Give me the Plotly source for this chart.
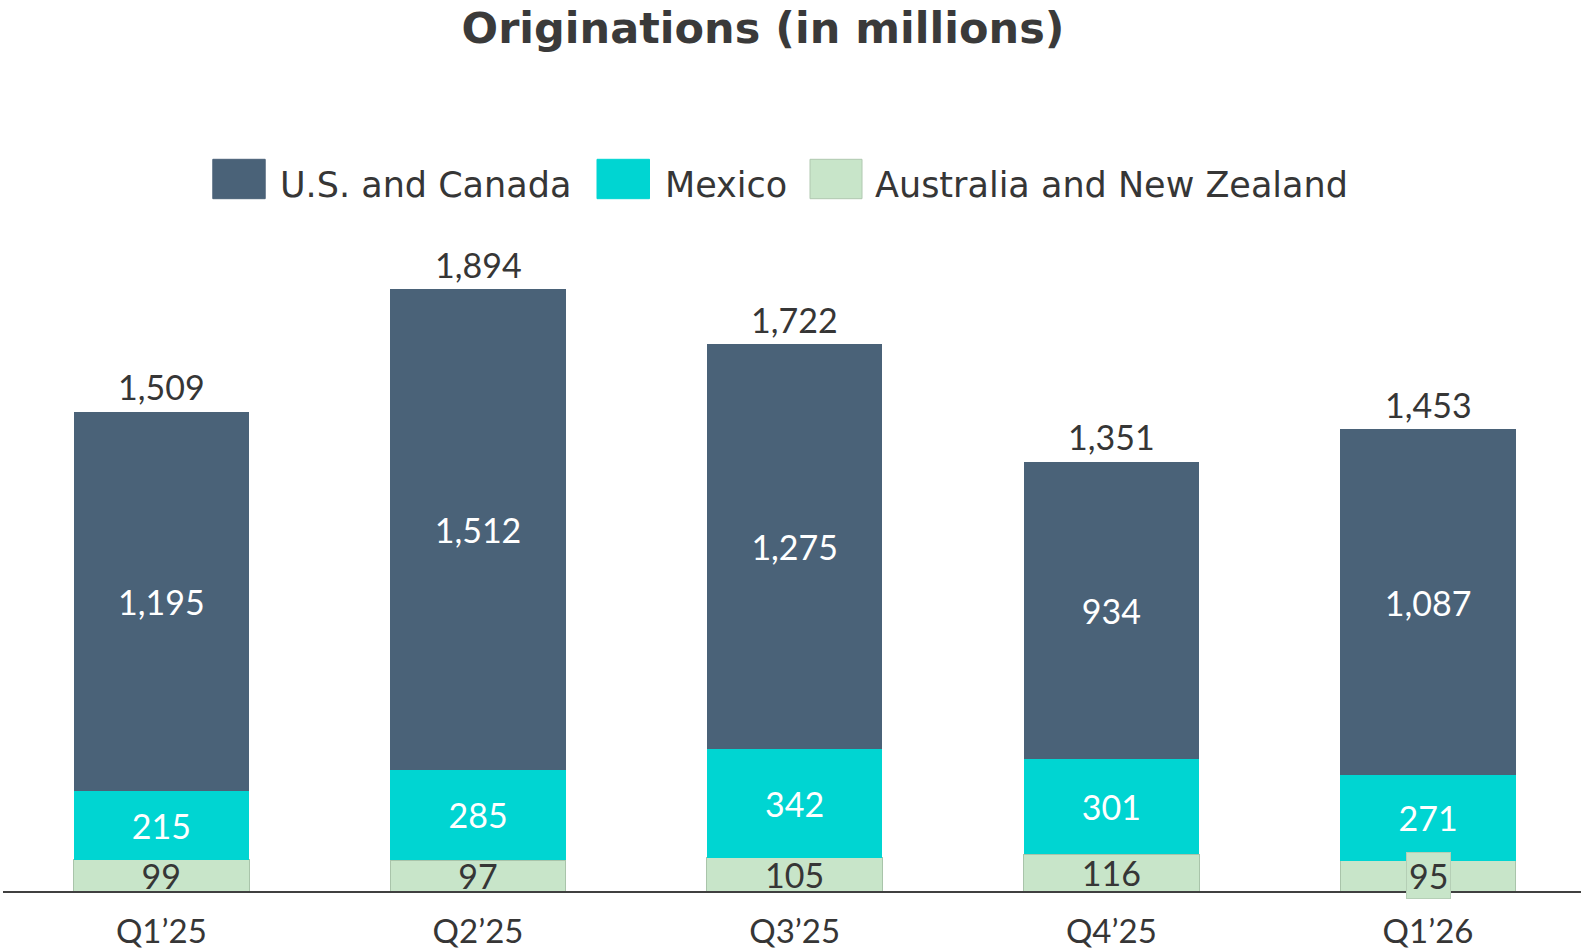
import plotly.graph_objects as go

quarters = ["Q1\u201925", "Q2\u201925", "Q3\u201925", "Q4\u201925", "Q1\u201926"]
us_canada = [1195, 1512, 1275, 934, 1087]
mexico = [215, 285, 342, 301, 271]
anz = [99, 97, 105, 116, 95]
series_names = ["U.S. and Canada", "Mexico", "Australia and New Zealand"]
totals = [a + b + c for a, b, c in zip(us_canada, mexico, anz)]

C_US = "#4A6278"
C_MX = "#00D5D2"
C_ANZ = "#C8E5C9"
TXT = "#363636"
NUMFONT = "Lato"
LEGFONT = "DejaVu Sans"

W, H = 1581, 951
ML, MR, MT, MB = 3, 0, 230, 60
PW, PH = W - ML - MR, H - MT - MB


def xp(px):
    return (px - ML) / PW


def yp(py):
    return (H - MB - py) / PH


fig = go.Figure()

anz_text = [f"{v:,}" for v in anz]
anz_text[-1] = ""

fig.add_trace(go.Bar(
    x=quarters, y=anz, name=series_names[2], marker_color=C_ANZ,
    marker_line=dict(color="#A9C4AA", width=1),
    text=anz_text, textposition="inside", insidetextanchor="middle", textangle=0,
    textfont=dict(color=TXT, size=34, family=NUMFONT), constraintext="none",
    showlegend=False, cliponaxis=False,
))
fig.add_trace(go.Bar(
    x=quarters, y=mexico, name=series_names[1], marker_color=C_MX,
    marker_line_width=0,
    text=[f"{v:,}" for v in mexico], textposition="inside", insidetextanchor="middle",
    textangle=0,
    textfont=dict(color="white", size=34, family=NUMFONT), constraintext="none",
    showlegend=False,
))
fig.add_trace(go.Bar(
    x=quarters, y=us_canada, name=series_names[0], marker_color=C_US,
    marker_line_width=0,
    text=[f"{v:,}" for v in us_canada], textposition="inside", insidetextanchor="middle",
    textangle=0,
    textfont=dict(color="white", size=34, family=NUMFONT), constraintext="none",
    showlegend=False,
))

# totals above bars
for q, t in zip(quarters, totals):
    fig.add_annotation(
        x=q, y=t, xref="x", yref="y", text=f"{t:,}", showarrow=False,
        yanchor="middle", yshift=25, font=dict(color=TXT, size=34, family=NUMFONT),
    )

# last ANZ label with its own box
fig.add_annotation(
    x=quarters[-1], y=anz[-1] / 2, xref="x", yref="y", text=f"{anz[-1]:,}",
    showarrow=False, font=dict(color=TXT, size=34, family=NUMFONT),
    bgcolor=C_ANZ, bordercolor="#B5CFB6", borderwidth=1, borderpad=2,
)

# legend (manual, large swatches)
legend_items = [
    (series_names[0], C_US, 212.8, 265.2, 278),
    (series_names[1], C_MX, 597.0, 649.5, 662.5),
    (series_names[2], C_ANZ, 810.0, 862.0, 873),
]
for name, col, x0, x1, tx in legend_items:
    fig.add_shape(type="rect", xref="paper", yref="paper",
                  x0=xp(x0), x1=xp(x1), y0=yp(198.7), y1=yp(159.3),
                  fillcolor=col, line=dict(color="#B0C8B0" if col == C_ANZ else col, width=1))
    fig.add_annotation(xref="paper", yref="paper", x=xp(tx), y=yp(184.6),
                       xanchor="left", yanchor="middle", showarrow=False,
                       text=name, font=dict(color=TXT, size=35, family=LEGFONT))

fig.update_layout(
    width=W, height=H,
    margin=dict(l=ML, r=MR, t=MT, b=MB, pad=0, autoexpand=False),
    plot_bgcolor="white", paper_bgcolor="white",
    barmode="stack", bargap=0.446,
    showlegend=False,
    title=dict(text="<b>Originations (in millions)</b>", x=763 / W, xref="container",
               xanchor="center", y=1 - 28 / H, yref="container", yanchor="middle",
               font=dict(size=43, family=LEGFONT, color="#3A3A3A")),
    font=dict(family=NUMFONT, color=TXT),
)
fig.update_xaxes(
    range=[-0.5, 4.483], showline=True, linecolor="#404040", linewidth=2,
    ticks="outside", ticklen=10, tickcolor="rgba(0,0,0,0)", automargin=False,
    tickfont=dict(size=33, family=NUMFONT, color=TXT), showgrid=False, zeroline=False,
)
fig.update_yaxes(range=[0, 2081], visible=False, showgrid=False, zeroline=False,
                 automargin=False)

fig.write_html("out.html", post_script="document.body.style.margin='0';",
               config={"displayModeBar": False})
